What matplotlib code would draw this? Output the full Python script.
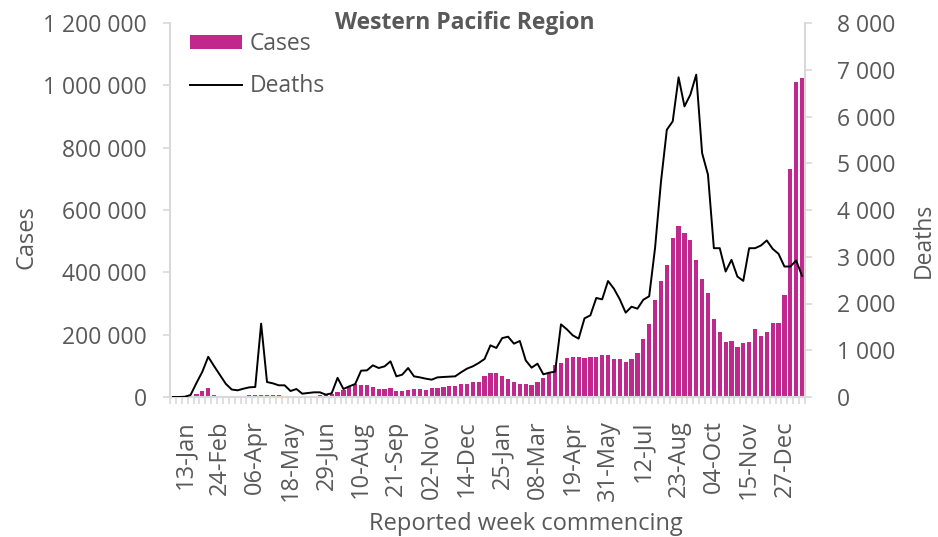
import matplotlib
matplotlib.use("Agg")
import matplotlib.pyplot as plt
import pandas as pd
from matplotlib.ticker import FuncFormatter, FixedLocator
from matplotlib.patches import Patch
from matplotlib.lines import Line2D

# Weekly categories (week commencing), 30-Dec-2019 .. 17-Jan-2022
weeks = pd.date_range("2019-12-30", periods=108, freq="7D")
week_labels = [d.strftime("%d-%b") for d in weeks]

# Weekly cases (thousands)
cases_k = [
    0.0, 0.1, 0.3, 2.0, 10, 20, 30, 7, 2.5, 1.5,
    1.5, 2, 4, 5.5, 6.5, 7.5, 7.5, 6.5, 5.5, 4.5,
    4, 4, 4.5, 4.5, 4.5, 5, 6, 9.6, 15, 23.5,
    32, 42, 40, 37, 31, 26, 26, 28, 18, 20,
    22.5, 24.6, 24.6, 23.5, 28, 29, 32, 36, 36, 41,
    43, 49, 49, 67, 78, 78, 67, 59, 48, 43,
    41, 38.5, 48, 61, 78, 102, 109, 125, 127, 128,
    124, 128, 127, 136, 136, 122, 121, 113, 123, 141,
    187, 234, 311, 371, 425, 509, 549, 526, 503, 440,
    379, 334, 250, 209, 175, 180, 161, 173, 175, 218,
    197, 210, 236, 236, 328, 731, 1012, 1024,
]
cases = [v * 1000 for v in cases_k]

# Weekly deaths
deaths = [
    0, 0, 5, 43, 300, 540, 860, 660, 470, 280,
    160, 143, 178, 207, 214, 1570, 320, 292, 250, 250,
    128, 171, 71, 86, 100, 100, 50, 80, 410, 171,
    228, 278, 563, 570, 677, 620, 656, 763, 442, 478,
    620, 442, 420, 392, 371, 420, 428, 435, 442, 528,
    606, 656, 727, 813, 1105, 1049, 1260, 1290, 1141, 1198,
    784, 627, 713, 485, 520, 542, 1554, 1447, 1319, 1248,
    1683, 1747, 2118, 2089, 2481, 2317, 2089, 1804, 1932, 1889,
    2080, 2155, 3190, 4600, 5717, 5896, 6838, 6217, 6467, 6895,
    5218, 4754, 3183, 3183, 2684, 2934, 2577, 2484, 3183, 3183,
    3240, 3348, 3169, 3062, 2791, 2791, 2919, 2591,
]

bar_color = "#C0288E"
text_color = "#595959"
axis_color = "#D9D9D9"

plt.rcParams["font.family"] = ["Open Sans", "DejaVu Sans"]

W, H = 938, 537
fig = plt.figure(figsize=(W / 100, H / 100), dpi=100)
ax = fig.add_axes([170 / W, 1 - 397 / H, 635 / W, 374 / H])
ax2 = ax.twinx()

x = list(range(len(weeks)))
ax.bar(x, cases, width=0.72, color=bar_color, edgecolor="none")
ax2.plot(x, deaths, color="black", linewidth=1.4)

ax.set_xlim(-0.5, len(weeks) - 0.5)
ax.set_ylim(0, 1200000)
ax2.set_ylim(0, 8000)

def space_thousands(v, pos):
    return f"{v:,.0f}".replace(",", " ")

ax.yaxis.set_major_locator(FixedLocator(range(0, 1200001, 200000)))
ax.yaxis.set_major_formatter(FuncFormatter(space_thousands))
ax2.yaxis.set_major_locator(FixedLocator(range(0, 8001, 1000)))
ax2.yaxis.set_major_formatter(FuncFormatter(space_thousands))

# label every 6th week starting at 13-Jan
label_idx = list(range(2, len(weeks), 6))
ax.set_xticks(label_idx)
ax.set_xticklabels([week_labels[i] for i in label_idx], rotation=90)
ax.set_xticks([i - 0.5 for i in range(len(weeks) + 1)], minor=True)
ax.tick_params(axis="x", which="major", length=0, pad=17, labelsize=17, labelcolor=text_color)
ax.tick_params(axis="x", which="minor", length=5, width=1.2, color=axis_color)

ax.tick_params(axis="y", length=5, width=1.2, color=axis_color, labelsize=16.5,
               labelcolor=text_color, pad=11.5)
ax2.tick_params(axis="y", length=5, width=1.2, color=axis_color, labelsize=16.5,
                labelcolor=text_color, pad=18)

for a in (ax, ax2):
    for s in a.spines.values():
        s.set_visible(False)
for a, side in ((ax, "left"), (ax, "bottom"), (ax2, "right")):
    a.spines[side].set_visible(True)
    a.spines[side].set_color(axis_color)
    a.spines[side].set_linewidth(1.5)

# axis titles
fig.text(26 / W, 1 - 237 / H, "Cases", rotation=90, ha="center", va="center",
         fontsize=17, color=text_color)
fig.text(924 / W, 1 - 240 / H, "Deaths", rotation=90, ha="center", va="center",
         fontsize=16.5, color=text_color)
fig.text(526 / W, 1 - 524 / H, "Reported week commencing", ha="center", va="center",
         fontsize=17, color=text_color)
fig.text(465 / W, 1 - 23 / H, "Western Pacific Region", ha="center", va="center",
         fontsize=16.5, fontweight="bold", color=text_color)

handles = [Patch(facecolor=bar_color, edgecolor="none", label="Cases"),
           Line2D([0], [0], color="black", linewidth=1.4, label="Deaths")]
leg = ax.legend(handles=handles, loc="upper left", bbox_to_anchor=(0.017, 1.0),
                borderaxespad=0, frameon=False, fontsize=16.5, handlelength=2.27,
                handleheight=0.52, labelspacing=0.8, handletextpad=0.35)
for t in leg.get_texts():
    t.set_color(text_color)

fig.savefig("out.png", dpi=100)
